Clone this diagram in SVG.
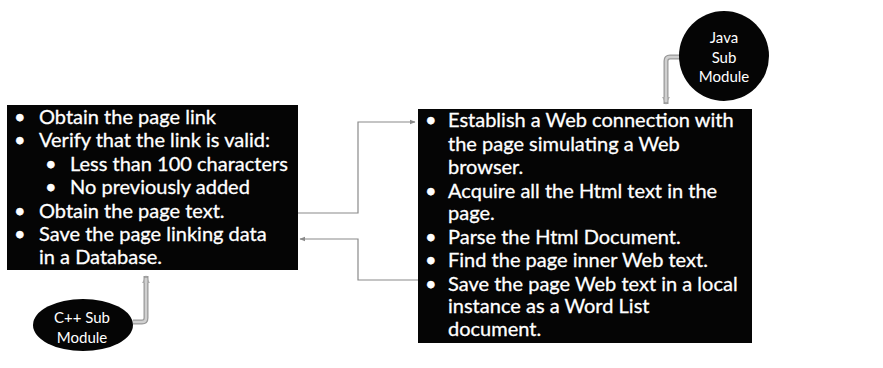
<svg xmlns="http://www.w3.org/2000/svg" width="883" height="368" viewBox="0 0 883 368">
<defs>
<style>
.box{fill:#050505;}
.t{font-family:Lato,"Open Sans","DejaVu Sans",sans-serif;font-size:20px;fill:#fff;stroke:#fff;stroke-width:0.3;}
.s{font-family:Lato,"Open Sans","DejaVu Sans",sans-serif;font-size:15px;fill:#fff;text-anchor:middle;}
.thin{fill:none;stroke:#8a8a8a;stroke-width:1.2;}
.thickO{fill:none;stroke:#9a9a9a;stroke-width:5;stroke-linejoin:round;}
.thickI{fill:none;stroke:#d0d0d0;stroke-width:2.5;stroke-linejoin:round;}
</style>
<marker id="ah" viewBox="0 0 10 10" refX="9" refY="5" markerWidth="6" markerHeight="6" orient="auto" markerUnits="userSpaceOnUse"><path d="M0,1 L10,5 L0,9 z" fill="#8a8a8a"/></marker>
<marker id="ahT" viewBox="0 0 10 10" refX="9" refY="5" markerWidth="8" markerHeight="8" orient="auto" markerUnits="userSpaceOnUse"><path d="M0,0 L10,5 L0,10 z" fill="#a8a8a8"/></marker>
</defs>
<rect width="883" height="368" fill="#fff"/>
<g id="connectors">
<path class="thin" d="M298,213 H358 V122 H415" marker-end="url(#ah)"/>
<path class="thin" d="M418,280 H358 V239 H300" marker-end="url(#ah)"/>
<path class="thickO" d="M680,57 H670 Q666,57 666,61 V104" marker-end="url(#ahT)"/>
<path class="thickI" d="M680,57 H670 Q666,57 666,61 V102"/>
<path class="thickO" d="M133,322 H142 Q146,322 146,318 V276" marker-end="url(#ahT)"/>
<path class="thickI" d="M133,322 H142 Q146,322 146,318 V278"/>
</g>
<g id="left-box">
<rect class="box" x="7" y="105" width="291" height="165"/>
<text class="t"><tspan x="14" y="124">•</tspan><tspan x="39" y="124">Obtain the page link</tspan>
<tspan x="14" y="147">•</tspan><tspan x="39" y="147">Verify that the link is valid:</tspan>
<tspan x="45" y="171">•</tspan><tspan x="70" y="171">Less than 100 characters</tspan>
<tspan x="45" y="194">•</tspan><tspan x="70" y="194">No previously added</tspan>
<tspan x="14" y="218">•</tspan><tspan x="39" y="218">Obtain the page text.</tspan>
<tspan x="14" y="241">•</tspan><tspan x="39" y="241">Save the page linking data</tspan>
<tspan x="39" y="264">in a Database.</tspan></text>
</g>
<g id="right-box">
<rect class="box" x="418" y="109" width="334" height="234"/>
<text class="t"><tspan x="425" y="127">•</tspan><tspan x="448" y="127">Establish a Web connection with</tspan>
<tspan x="448" y="151">the page simulating a Web</tspan>
<tspan x="448" y="174">browser.</tspan>
<tspan x="425" y="198">•</tspan><tspan x="448" y="198">Acquire all the Html text in the</tspan>
<tspan x="448" y="220">page.</tspan>
<tspan x="425" y="244">•</tspan><tspan x="448" y="244">Parse the Html Document.</tspan>
<tspan x="425" y="267">•</tspan><tspan x="448" y="267">Find the page inner Web text.</tspan>
<tspan x="425" y="291">•</tspan><tspan x="448" y="291">Save the page Web text in a local</tspan>
<tspan x="448" y="313">instance as a Word List</tspan>
<tspan x="448" y="336">document.</tspan></text>
</g>
<g id="java-module">
<circle cx="724" cy="56" r="45" fill="#050505"/>
<text class="s"><tspan x="724" y="43">Java</tspan><tspan x="724" y="63">Sub</tspan><tspan x="724" y="82">Module</tspan></text>
</g>
<g id="cpp-module">
<ellipse cx="83" cy="325" rx="50" ry="26" fill="#050505"/>
<text class="s"><tspan x="82" y="323">C++ Sub</tspan><tspan x="82" y="343">Module</tspan></text>
</g>
</svg>
